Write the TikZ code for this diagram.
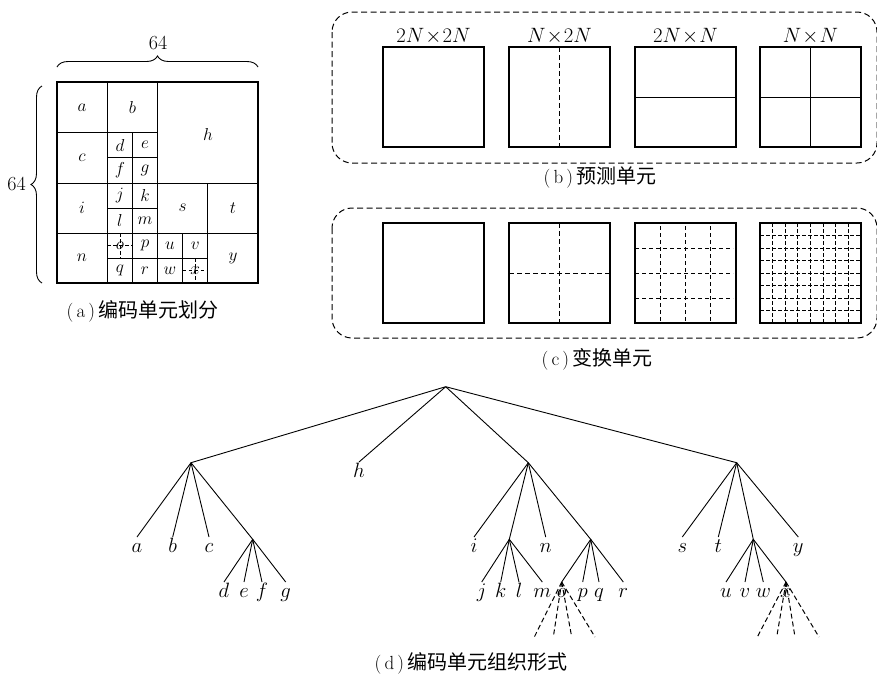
\documentclass[tikz,border=0pt]{standalone}
\usepackage{fontspec}
\newfontfamily\cjk{Noto Sans CJK SC}
\usetikzlibrary{decorations.pathreplacing}
\begin{document}
\begin{tikzpicture}[x=1pt,y=-1pt,
  celltxt/.style={font=\fontsize{19}{21}\selectfont, inner sep=0pt},
  ttltxt/.style={font=\fontsize{20}{22}\selectfont, anchor=base, inner sep=0pt},
  captxt/.style={font=\fontsize{19}{22}\selectfont, inner sep=0pt},
  leafnode/.style={anchor=north, inner sep=3pt, text height=12pt, text depth=4pt, font=\fontsize{20}{22}\selectfont},
  gouter/.style={line width=1.3pt},
  ginner/.style={line width=1pt},
  sqbox/.style={line width=1.3pt},
  dshline/.style={line width=1pt, dash pattern=on 5pt off 3pt},
  fineline/.style={line width=0.9pt, dash pattern=on 4pt off 3pt},
  tinyline/.style={line width=0.8pt, dash pattern=on 3.5pt off 2.5pt},
  tedge/.style={line width=0.9pt},
  dframe/.style={line width=1pt, dash pattern=on 6pt off 3.5pt, rounded corners=20pt},
  brc/.style={decorate, decoration={brace, amplitude=11pt}, line width=0.9pt}
]
\useasboundingbox (0,0) rectangle (877,673);

% ---------------- (a) coding unit partition ----------------
\draw[brc] (57,67) -- (258,67);
\node[font=\fontsize{20}{22}\selectfont] (w64) at (158,43) {64};
\draw[brc] (42,283) -- (42,86);
\node[font=\fontsize{20}{22}\selectfont] (h64) at (16.5,184) {64};

\draw[gouter] (57,82) rectangle (258,283);
\draw[ginner] (157.5,82) -- (157.5,283);
\draw[ginner] (57,183) -- (258,183);
\draw[ginner] (57,233) -- (258,233);
\draw[ginner] (107.3,82) -- (107.3,283);
\draw[ginner] (57,132.5) -- (157.5,132.5);
\draw[ginner] (132.4,132.5) -- (132.4,283);
\draw[ginner] (107.3,157.7) -- (157.5,157.7);
\draw[ginner] (107.3,208) -- (157.5,208);
\draw[ginner] (107.3,258) -- (207.8,258);
\draw[ginner] (207.8,183) -- (207.8,283);
\draw[ginner] (182.6,233) -- (182.6,283);
\draw[tinyline] (107.3,245.5) -- (132.4,245.5);
\draw[tinyline] (119.9,233) -- (119.9,258);
\draw[tinyline] (182.6,270.5) -- (207.8,270.5);
\draw[tinyline] (195.2,258) -- (195.2,283);

\node[celltxt] (ca) at (82,107.5) {$a$};
\node[celltxt] (cb) at (132.4,107.5) {$b$};
\node[celltxt] (ch) at (208,134) {$h$};
\node[celltxt] (cc) at (82,157.7) {$c$};
\node[celltxt] (cd) at (119.9,145) {$d$};
\node[celltxt] (ce) at (145,145) {$e$};
\node[celltxt] (cf) at (119.9,170.3) {$f$};
\node[celltxt] (cg) at (145,170.3) {$g$};
\node[celltxt] (ci) at (82,208) {$i$};
\node[celltxt] (cj) at (119.9,195.5) {$j$};
\node[celltxt] (ck) at (145,195.5) {$k$};
\node[celltxt] (cl) at (119.9,220.5) {$l$};
\node[celltxt] (cm) at (145,220.5) {$m$};
\node[celltxt] (cs) at (182.6,208) {$s$};
\node[celltxt] (ct) at (233,208) {$t$};
\node[celltxt] (cn) at (82,258) {$n$};
\node[celltxt] (co) at (119.9,245.5) {$o$};
\node[celltxt] (cp) at (145,245.5) {$p$};
\node[celltxt] (cq) at (119.9,270.5) {$q$};
\node[celltxt] (cr) at (145,270.5) {$r$};
\node[celltxt] (cu) at (170,245.5) {$u$};
\node[celltxt] (cv) at (195.2,245.5) {$v$};
\node[celltxt] (cw) at (170,270.5) {$w$};
\node[celltxt] (cx) at (195.2,270.5) {$x$};
\node[celltxt] (cy) at (233,258) {$y$};

\node[captxt] (capa) at (142.5,311) {(\,a\,)\,{\cjk\fontsize{20}{22}\selectfont 编码单元划分}};

% ---------------- (b) prediction units ----------------
\draw[dframe] (332,12) rectangle (877,163);
\draw[sqbox] (383,47) rectangle (484,147);
\draw[sqbox] (509,47) rectangle (610,147);
\draw[sqbox] (635,47) rectangle (736,147);
\draw[sqbox] (760,47) rectangle (861,147);
\draw[dshline] (559.5,47) -- (559.5,147);
\draw[ginner] (635,97) -- (736,97);
\draw[ginner] (760,97) -- (861,97);
\draw[ginner] (810.5,47) -- (810.5,147);
\node[ttltxt] (t1) at (433.5,42) {$2N\!\times\!2N$};
\node[ttltxt] (t2) at (559.5,42) {$N\!\times\!2N$};
\node[ttltxt] (t3) at (685.5,42) {$2N\!\times\!N$};
\node[ttltxt] (t4) at (810.5,42) {$N\!\times\!N$};
\node[captxt] (capb) at (600,178) {(\,b\,)\,{\cjk\fontsize{20}{22}\selectfont 预测单元}};

% ---------------- (c) transform units ----------------
\draw[dframe] (332,208) rectangle (877,338);
\draw[sqbox] (383,223) rectangle (484,323);
\draw[sqbox] (509,223) rectangle (610,323);
\draw[sqbox] (635,223) rectangle (736,323);
\draw[sqbox] (760,223) rectangle (861,323);
\draw[dshline] (559.5,223) -- (559.5,323);
\draw[dshline] (509,273) -- (610,273);
\foreach \k in {1,2,3} {
  \draw[fineline] (635+25.25*\k,226) -- (635+25.25*\k,323);
  \draw[fineline] (635,223+25*\k) -- (733,223+25*\k);
}
\foreach \k in {1,...,7} {
  \draw[tinyline] (760+12.625*\k,223) -- (760+12.625*\k,323);
  \draw[tinyline] (760,223+12.5*\k) -- (861,223+12.5*\k);
}
\node[captxt] (capc) at (597,359) {(\,c\,)\,{\cjk\fontsize{20}{22}\selectfont 变换单元}};

% ---------------- (d) tree ----------------
\coordinate (root) at (445.7,386.7);
\coordinate (n1) at (191,462.7);
\coordinate (n3) at (528.3,462.7);
\coordinate (n4) at (736.7,462.7);
\coordinate (n1d) at (252.7,539.3);
\coordinate (n3j) at (509.3,539.3);
\coordinate (n3o) at (590.7,539.3);
\coordinate (n4u) at (753.3,539.3);

\node[leafnode] (h) at (359,462) {$h$};
\node[leafnode] (a) at (137,537) {$a$};
\node[leafnode] (b) at (172.7,537) {$b$};
\node[leafnode] (c) at (209,537) {$c$};
\node[leafnode] (i) at (474,537) {$i$};
\node[leafnode] (n) at (545.7,537) {$n$};
\node[leafnode] (s) at (682.3,537) {$s$};
\node[leafnode] (t) at (718.3,537) {$t$};
\node[leafnode] (y) at (798.3,537) {$y$};
\node[leafnode] (d) at (224,582) {$d$};
\node[leafnode] (e) at (244,582) {$e$};
\node[leafnode] (f) at (262,582) {$f$};
\node[leafnode] (g) at (285.7,582) {$g$};
\node[leafnode] (j) at (481.7,582) {$j$};
\node[leafnode] (k) at (500.7,582) {$k$};
\node[leafnode] (l) at (519,582) {$l$};
\node[leafnode] (m) at (542.3,582) {$m$};
\node[leafnode] (o) at (561.7,582) {$o$};
\node[leafnode] (p) at (582.7,582) {$p$};
\node[leafnode] (q) at (599,582) {$q$};
\node[leafnode] (r) at (623.3,582) {$r$};
\node[leafnode] (u) at (726,582) {$u$};
\node[leafnode] (v) at (745,582) {$v$};
\node[leafnode] (w) at (763.3,582) {$w$};
\node[leafnode] (x) at (786,582) {$x$};

\draw[tedge] (root) -- (n1);
\draw[tedge] (root) -- (h.north);
\draw[tedge] (root) -- (n3);
\draw[tedge] (root) -- (n4);
\draw[tedge] (n1) -- (a.north);
\draw[tedge] (n1) -- (b.north);
\draw[tedge] (n1) -- (c.north);
\draw[tedge] (n1) -- (n1d);
\draw[tedge] (n1d) -- (d.north);
\draw[tedge] (n1d) -- (e.north);
\draw[tedge] (n1d) -- (f.north);
\draw[tedge] (n1d) -- (g.north);
\draw[tedge] (n3) -- (i.north);
\draw[tedge] (n3) -- (n3j);
\draw[tedge] (n3) -- (n.north);
\draw[tedge] (n3) -- (n3o);
\draw[tedge] (n3j) -- (j.north);
\draw[tedge] (n3j) -- (k.north);
\draw[tedge] (n3j) -- (l.north);
\draw[tedge] (n3j) -- (m.north);
\draw[tedge] (n3o) -- (o.north);
\draw[tedge] (n3o) -- (p.north);
\draw[tedge] (n3o) -- (q.north);
\draw[tedge] (n3o) -- (r.north);
\draw[tedge] (n4) -- (s.north);
\draw[tedge] (n4) -- (t.north);
\draw[tedge] (n4) -- (n4u);
\draw[tedge] (n4) -- (y.north);
\draw[tedge] (n4u) -- (u.north);
\draw[tedge] (n4u) -- (v.north);
\draw[tedge] (n4u) -- (w.north);
\draw[tedge] (n4u) -- (x.north);

\coordinate (o1) at (534.3,637);
\coordinate (o2) at (553.3,637);
\coordinate (o3) at (571.7,637);
\coordinate (o4) at (595,637);
\coordinate (x1) at (757.3,637);
\coordinate (x2) at (776.7,637);
\coordinate (x3) at (795,637);
\coordinate (x4) at (819,637);
\foreach \e in {o1,o2,o3,o4} \draw[dshline] (o.north) -- (\e);
\foreach \e in {x1,x2,x3,x4} \draw[dshline] (x.north) -- (\e);

\node[captxt] (capd) at (471,663) {(\,d\,)\,{\cjk\fontsize{20}{22}\selectfont 编码单元组织形式}};
\end{tikzpicture}
\end{document}
